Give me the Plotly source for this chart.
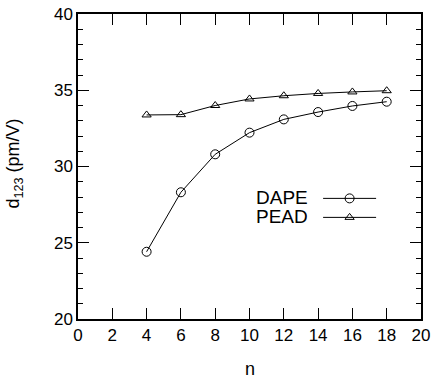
import plotly.graph_objects as go

n_vals = [4, 6, 8, 10, 12, 14, 16, 18]
dape = [24.41, 28.31, 30.8, 32.22, 33.09, 33.57, 33.97, 34.25]
pead = [33.38, 33.4, 34.0, 34.43, 34.64, 34.79, 34.89, 34.97]
series_names = ["DAPE", "PEAD"]
x_title = "n"
y_title = "d<sub>123</sub> (pm/V)"

FONT = "Liberation Sans, Arial, sans-serif"

fig = go.Figure()
fig.add_trace(go.Scatter(x=n_vals, y=dape, mode="lines+markers", name=" ",
                         line=dict(color="black", width=1),
                         marker=dict(symbol="circle-open", size=9, color="black", line=dict(width=1))))
fig.add_trace(go.Scatter(x=n_vals, y=pead, mode="lines+markers", name=" ",
                         line=dict(color="black", width=1),
                         marker=dict(symbol="triangle-up-open", size=8, color="black", line=dict(width=1))))

axis_common = dict(showgrid=False, zeroline=False, showline=True, linecolor="black", linewidth=1.5,
                   mirror="ticks", ticks="inside", ticklen=11, tickwidth=1.2, tickcolor="black",
                   tickfont=dict(family=FONT, size=17, color="black"), automargin=False)

fig.update_xaxes(range=[0, 20], dtick=2, tick0=0, **axis_common)
fig.update_yaxes(range=[20, 40], dtick=5, tick0=20,
                 minor=dict(dtick=1, ticks="inside", ticklen=5, tickwidth=1.2, tickcolor="black"),
                 **axis_common)

fig.update_layout(
    width=432, height=379,
    margin=dict(l=78, r=11, t=14, b=60, autoexpand=False),
    paper_bgcolor="white", plot_bgcolor="white",
    showlegend=True,
    legend=dict(x=0.70, y=0.443, xanchor="left", yanchor="top", bgcolor="rgba(0,0,0,0)",
                font=dict(family=FONT, size=12, color="black"), tracegroupgap=0, itemwidth=53),
)
# axis titles
fig.add_annotation(text=x_title, xref="paper", yref="paper", x=0.5, y=-0.165,
                   xanchor="center", yanchor="middle", showarrow=False, height=18,
                   font=dict(family=FONT, size=18, color="black"))
fig.add_annotation(text=y_title, xref="paper", yref="paper", x=-0.185, y=0.508, textangle=-90,
                   xanchor="center", yanchor="middle", showarrow=False,
                   font=dict(family=FONT, size=18, color="black"))
# legend labels (left of the symbols, as in the reference)
for i, nm in enumerate(series_names):
    fig.add_annotation(text=nm, xref="paper", yref="paper", x=0.675, y=0.40 - i * 0.065,
                       xanchor="right", yanchor="middle", showarrow=False, height=19,
                       font=dict(family=FONT, size=19, color="black"))

fig.write_html("out.html", config={"displayModeBar": False},
               post_script="document.body.style.margin='0';document.body.style.overflow='hidden';")
